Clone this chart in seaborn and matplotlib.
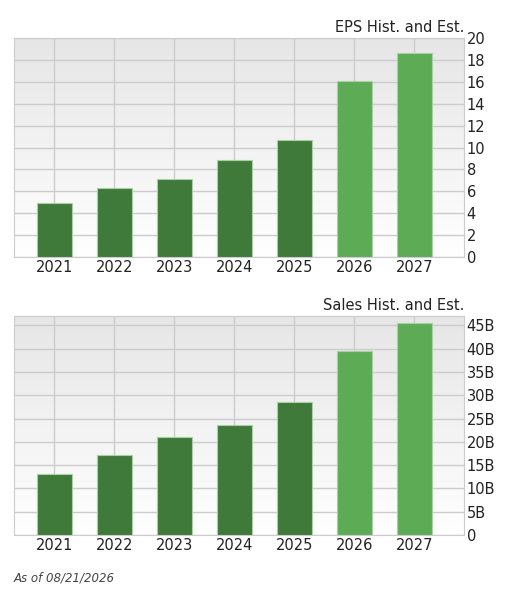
import numpy as np
import pandas as pd
import matplotlib
matplotlib.use("Agg")
import matplotlib.pyplot as plt
import seaborn as sns
from matplotlib.ticker import FuncFormatter

years = ["2021", "2022", "2023", "2024", "2025", "2026", "2027"]
eps = [4.9, 6.3, 7.1, 8.9, 10.7, 16.1, 18.6]
sales = [13.0, 17.2, 21.0, 23.7, 28.6, 39.5, 45.5]
kind = ["hist"] * 5 + ["est"] * 2

sns.set_style("white")
plt.rcParams["font.family"] = ["DejaVu Sans"]

dark = "#3f7a3b"
light = "#5dab55"
palette = [dark if k == "hist" else light for k in kind]

fig = plt.figure(figsize=(5.26, 6.05), dpi=100)
ax1 = fig.add_axes([14 / 526, 1 - 257 / 605, 450 / 526, 219 / 605])
ax2 = fig.add_axes([14 / 526, 1 - 535 / 605, 450 / 526, 219 / 605])

grad = np.linspace(0, 1, 256).reshape(-1, 1)
cmap = matplotlib.colors.LinearSegmentedColormap.from_list("g", ["#ffffff", "#e6e6e6"])


def draw(ax, vals, title, ymax, step, fmt):
    df = pd.DataFrame({"year": years, "val": vals})
    ax.imshow(grad, extent=[0, 1, 0, 1], transform=ax.transAxes, cmap=cmap,
              aspect="auto", origin="lower", zorder=0)
    sns.barplot(data=df, x="year", y="val", hue="year", palette=palette,
                legend=False, width=0.58, ax=ax, zorder=3,
                edgecolor="#a8d0a0", linewidth=0.8, saturation=1)
    ax.set_xlim(-0.67, 6.83)
    ax.set_ylim(0, ymax)
    ax.set_yticks(np.arange(0, ymax + 0.01, step))
    ax.yaxis.set_major_formatter(FuncFormatter(fmt))
    ax.yaxis.tick_right()
    ax.grid(True, color="#cccccc", linewidth=1, zorder=1)
    ax.set_axisbelow(True)
    for s in ax.spines.values():
        s.set_color("#cccccc")
    ax.tick_params(axis="both", length=0, labelsize=10.5, colors="#222222", pad=2)
    ax.set_xlabel("")
    ax.set_ylabel("")
    ax.set_title(title, loc="right", fontsize=10.5, color="#222222", pad=4)


draw(ax1, eps, "EPS Hist. and Est.", 20, 2, lambda v, p: f"{v:.0f}")
draw(ax2, sales, "Sales Hist. and Est.", 47, 5,
     lambda v, p: "0" if v == 0 else f"{v:.0f}B")

fig.text(14 / 526, 1 - 578 / 605, "As of 08/21/2026", fontsize=8.5,
         style="italic", color="#444444", va="center")

fig.savefig("out.png", dpi=100)
